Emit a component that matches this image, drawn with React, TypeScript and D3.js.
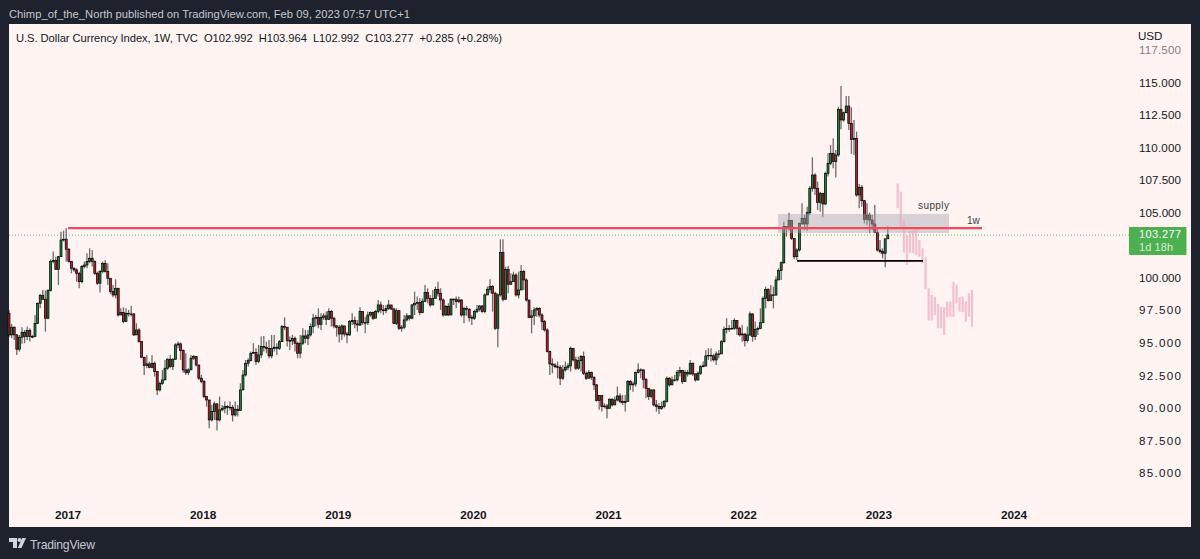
import * as d3 from "d3";

// weekly candles of DXY. open of a week = close of the week before
const firstOpen = 97.27;
const closes = [
  95.61, 96.2, 95.61, 94.51, 95.43, 95.81, 95.48, 95.94, 95.48, 95.48, 96.5, 98.04, 98.65, 98.35, 96.89, 99.01, 101.24, 101.32, 100.65, 101.62,
  102.9, 102.96, 102.19, 101.24, 100.73, 100.6, 100.34, 99.7, 100.86, 100.98, 101.24, 101.5, 101.24, 100.34, 99.58, 100.47, 101.11, 100.47, 99.96, 98.94,
  98.68, 99.19, 97.14, 97.32, 96.63, 97.27, 97.22, 97.22, 95.61, 95.99, 95.1, 93.89, 93.25, 93.38, 93.12, 93.43, 92.79, 91.38, 91.89, 92.15,
  93.05, 93.74, 93.18, 93.74, 94.84, 94.92, 94.4, 92.92, 92.71, 92.92, 93.82, 93.94, 93.3, 92.28, 92.02, 90.87, 90.61, 89.08, 89.72, 90.31,
  89.08, 89.85, 89.97, 90.1, 90.03, 90.05, 89.46, 89.9, 89.8, 91.38, 92.53, 93.43, 93.64, 94.2, 94.25, 93.56, 94.07,
  94.71, 94.66, 94.56, 94.0, 94.58, 94.66, 94.58, 95.09, 96.25, 96.2, 95.17, 95.15, 95.35, 94.97, 94.2, 94.97, 95.53, 95.35, 95.61, 96.25,
  96.89, 96.96, 96.42, 96.96, 97.07, 96.81, 97.4, 96.89, 96.3, 96.2, 95.68, 96.3, 95.68, 95.61, 96.63, 96.71, 96.45, 96.37, 97.4, 96.55,
  96.55, 97.14, 97.32, 96.89, 97.4, 97.91, 97.53, 97.47, 97.65, 97.91, 97.6, 96.5, 97.47, 96.12, 96.2, 96.76, 97.07, 96.89, 97.91, 98.04,
  98.09, 97.32, 98.17, 98.86, 98.42, 97.91, 98.42, 99.11, 98.81, 98.29, 97.14, 97.78, 97.14, 98.35, 98.35, 98.17, 98.29, 97.14, 97.65, 97.58,
  96.96, 96.89, 97.4, 97.58, 97.83, 97.4, 98.68, 99.11, 99.32, 98.81, 96.12, 98.68, 101.93, 98.35, 100.65, 99.5, 99.7, 100.21, 98.68, 99.06,
  100.47, 99.83, 98.29, 96.96, 97.07, 97.53, 97.65, 97.14, 96.63, 95.99, 94.33, 93.38, 93.3, 93.17, 93.12, 92.28, 92.92, 93.12, 93.23, 94.58,
  93.69, 93.05, 93.63, 93.94, 92.66, 92.28, 92.71, 92.36, 91.77, 90.56, 90.95, 90.1, 90.15, 89.97, 90.67, 90.23, 90.61, 90.92, 90.49, 90.41,
  90.49, 92.02, 91.77, 91.84, 92.71, 92.92, 92.92, 92.2, 91.51, 90.87, 91.38, 90.23, 90.1, 89.97, 90.1, 90.49, 92.28, 91.77, 92.15, 92.15,
  92.71, 92.87, 92.02, 92.71, 92.61, 93.43, 92.61, 92.15, 92.66, 93.17, 93.23, 94.0, 94.04, 94.0, 93.69, 94.15, 94.15, 95.09, 96.04, 96.09,
  96.09, 96.12, 96.71, 96.12, 95.61, 95.68, 95.17, 95.61, 97.22, 95.48, 96.04, 96.09, 96.55, 98.42, 99.11, 98.24, 98.68, 98.68, 99.83, 100.55,
  101.16, 103.93, 103.8, 104.39, 103.03, 101.62, 102.13, 104.18, 104.57, 104.13, 105.0, 106.87, 107.89, 106.87, 105.77, 106.49, 105.67, 108.02, 108.79, 109.56,
  108.92, 109.43, 112.94, 112.12, 112.68, 113.19, 111.86, 110.63, 110.71, 106.36, 106.95, 105.92, 104.49, 104.82, 104.44, 104.13, 103.47, 102.13, 102.01, 101.88,
  102.992, 103.277,
];
const highs = [
  97.53, 96.45, 96.25, 95.68, 95.61, 96.2, 95.99, 96.25, 96.12, 95.61, 97.14, 98.09, 98.76, 99.06, 99.01, 99.11, 101.42, 102.01, 101.62, 101.68,
  103.54, 103.62, 103.8, 102.26, 101.24, 100.8, 100.73, 100.47, 100.98, 101.24, 101.88, 102.26, 102.14, 101.32, 100.47, 100.6, 101.24, 101.37, 101.11, 99.06,
  99.45, 99.88, 99.24, 97.66, 97.73, 97.66, 97.53, 97.84, 97.27, 96.5, 96.12, 95.1, 93.94, 94.07, 93.56, 94.07, 93.56, 92.66, 92.02, 92.92,
  93.69, 93.82, 94.07, 93.82, 94.97, 95.1, 95.02, 94.51, 94.2, 93.05, 94.07, 94.07, 93.99, 93.3, 92.53, 92.15, 90.87, 90.61, 90.23, 90.49,
  90.36, 90.87, 90.23, 90.49, 90.23, 90.49, 90.23, 90.49, 90.23, 91.89, 92.92, 93.69, 93.82, 94.33, 94.97, 94.58, 94.84,
  95.48, 95.53, 95.09, 95.22, 95.61, 95.61, 94.97, 95.22, 96.37, 96.96, 96.12, 95.48, 95.61, 95.48, 95.09, 95.61, 96.12, 95.99, 95.99, 96.5,
  97.22, 97.14, 97.65, 97.27, 97.27, 97.4, 97.65, 97.53, 97.01, 96.37, 96.37, 96.43, 96.25, 95.86, 96.76, 97.27, 97.01, 96.76, 97.73, 97.4,
  97.01, 97.4, 97.4, 97.4, 97.53, 98.29, 98.17, 97.91, 97.91, 98.29, 97.91, 97.7, 97.65, 97.53, 96.37, 97.14, 97.27, 97.14, 97.99, 98.93,
  98.55, 98.42, 98.42, 99.45, 99.19, 98.68, 99.06, 99.32, 99.7, 99.19, 98.42, 97.91, 98.04, 98.42, 98.42, 98.55, 98.55, 98.35, 97.78, 97.83,
  97.65, 97.14, 97.53, 97.91, 97.91, 97.91, 98.81, 99.32, 99.88, 99.45, 98.93, 98.81, 102.95, 102.95, 100.85, 100.91, 100.34, 100.47, 100.34, 100.47,
  100.98, 100.6, 99.96, 98.29, 97.53, 97.73, 97.73, 97.73, 97.27, 96.76, 96.12, 94.4, 93.81, 93.43, 93.56, 93.3, 93.3, 93.56, 93.43, 94.71,
  94.58, 93.94, 93.94, 94.07, 94.33, 92.79, 92.92, 92.79, 92.41, 91.84, 91.0, 90.92, 90.36, 90.31, 90.74, 90.74, 90.87, 91.64, 91.13, 91.0,
  91.0, 92.15, 92.15, 92.02, 92.79, 93.43, 93.05, 92.97, 92.28, 91.51, 91.43, 91.43, 90.61, 90.36, 90.49, 90.61, 92.41, 92.36, 92.41, 92.53,
  92.92, 93.17, 92.92, 92.92, 92.92, 93.69, 93.48, 92.66, 92.79, 93.3, 93.56, 94.45, 94.58, 94.58, 94.15, 94.33, 94.45, 95.22, 96.25, 96.89,
  96.37, 96.76, 96.89, 96.76, 96.25, 96.37, 95.73, 96.25, 97.4, 97.27, 96.63, 96.25, 97.65, 98.55, 99.32, 99.19, 99.45, 99.32, 100.09, 100.73,
  101.24, 104.31, 103.93, 105.0, 104.44, 103.03, 102.26, 104.23, 105.72, 104.82, 105.46, 107.05, 109.25, 108.02, 107.38, 106.61, 106.49, 108.15, 109.56, 110.2,
  110.71, 109.81, 113.14, 114.73, 112.76, 113.96, 113.96, 113.09, 112.12, 111.22, 107.2, 107.13, 105.97, 105.72, 105.0, 104.82, 105.59, 103.8, 102.9, 102.26,
  102.95, 103.964,
];
const lows = [
  95.43, 95.35, 95.22, 94.07, 94.33, 94.92, 94.97, 95.22, 95.1, 95.35, 95.43, 96.45, 97.66, 98.3, 95.86, 96.81, 98.94, 101.11, 100.6, 99.45,
  101.62, 102.78, 101.24, 101.16, 100.34, 100.47, 99.7, 99.19, 99.58, 100.73, 100.73, 101.11, 100.86, 100.22, 99.45, 98.86, 100.34, 100.4, 99.45, 98.76,
  98.5, 98.42, 97.02, 97.14, 96.5, 96.63, 97.02, 97.02, 95.53, 95.61, 95.02, 93.82, 92.53, 93.05, 93.05, 93.05, 92.41, 91.0, 91.26, 91.77,
  92.15, 92.92, 93.05, 92.92, 93.69, 94.58, 93.69, 92.71, 92.53, 92.53, 93.05, 93.69, 93.18, 92.15, 91.89, 90.74, 90.1, 88.44, 88.95, 89.08,
  88.26, 88.95, 89.72, 89.59, 89.46, 89.8, 88.95, 89.34, 89.34, 90.23, 91.38, 92.41, 93.18, 93.56, 94.15, 93.3, 93.43,
  93.81, 94.33, 94.2, 93.81, 93.81, 94.33, 94.07, 94.45, 95.09, 95.99, 94.71, 94.45, 94.84, 94.33, 93.81, 93.81, 94.84, 94.97, 94.84, 95.48,
  95.73, 96.25, 96.12, 95.99, 96.76, 96.37, 96.76, 96.25, 96.12, 95.48, 95.02, 95.22, 95.48, 94.97, 95.53, 96.37, 96.12, 95.86, 96.3, 96.37,
  95.73, 96.37, 97.01, 96.76, 97.14, 97.27, 97.27, 97.14, 97.27, 97.53, 97.53, 96.45, 96.37, 95.99, 95.86, 96.04, 96.63, 96.71, 96.81, 97.14,
  97.53, 97.14, 97.27, 98.17, 98.04, 97.78, 97.91, 98.42, 98.55, 97.53, 97.01, 97.07, 97.07, 97.14, 97.91, 97.65, 98.04, 97.01, 96.5, 97.07,
  96.63, 96.37, 96.76, 97.27, 97.4, 97.32, 97.27, 98.68, 98.81, 97.4, 95.99, 94.66, 98.55, 98.17, 98.29, 98.81, 99.45, 99.7, 98.55, 98.42,
  99.06, 99.06, 98.17, 96.89, 95.73, 96.37, 97.01, 96.96, 95.99, 95.86, 94.25, 92.53, 92.66, 93.05, 92.28, 91.77, 92.15, 92.79, 92.92, 92.79,
  93.56, 92.92, 92.92, 92.79, 92.53, 92.15, 92.28, 92.15, 91.38, 90.49, 89.85, 89.72, 89.97, 89.21, 89.97, 90.1, 90.23, 90.49, 90.36, 90.23,
  89.72, 90.87, 91.38, 91.25, 91.64, 92.66, 92.28, 91.51, 90.74, 90.61, 90.74, 90.1, 89.72, 89.54, 89.85, 89.97, 90.41, 91.64, 91.77, 92.02,
  92.02, 92.41, 91.84, 92.02, 92.41, 92.53, 92.46, 92.02, 92.1, 92.53, 93.12, 93.17, 93.69, 93.56, 93.56, 93.3, 93.81, 94.2, 95.02, 95.73,
  95.86, 95.99, 95.99, 95.61, 95.48, 95.09, 94.71, 95.02, 95.53, 95.09, 95.22, 95.61, 96.04, 96.5, 97.65, 98.17, 98.29, 97.65, 98.6, 99.83,
  99.83, 101.06, 103.16, 103.62, 102.9, 101.42, 101.37, 102.01, 104.05, 103.67, 103.62, 104.82, 106.61, 106.36, 105.21, 105.08, 104.64, 105.59, 107.77, 108.66,
  108.41, 107.71, 109.3, 111.4, 111.99, 112.63, 111.35, 109.51, 109.43, 106.23, 105.33, 105.46, 104.18, 104.05, 103.41, 103.67, 103.41, 102.01, 101.88, 101.49,
  100.8, 102.992,
];

// pasted "bars pattern" projection in pink
const ghostHighs = [107.25, 106.61, 104.39, 103.29, 103.62, 103.62, 103.72, 102.9, 102.26, 101.57, 99.19, 98.68, 98.55, 97.99, 97.78, 97.73, 98.17, 98.17, 99.7, 99.45, 98.5, 98.55, 98.17, 98.8, 99.06];
const ghostLows = [105.33, 103.8, 101.93, 100.98, 101.88, 101.88, 101.75, 101.62, 101.11, 99.11, 96.71, 96.71, 97.14, 96.12, 96.12, 95.6, 96.96, 97.01, 97.01, 98.04, 97.4, 97.35, 96.63, 97.01, 96.24];

// 102.500 sits behind the last price label in the reference, so it is left out
const priceTicks = [85, 87.5, 90, 92.5, 95, 97.5, 100, 105, 107.5, 110, 112.5, 115, 117.5];
const years = [2017, 2018, 2019, 2020, 2021, 2022, 2023, 2024];
const lastPrice = 103.277;
const resistance = 103.82;
const support = 101.29;
const supplyTop = 104.9;
const supplyBottom = 103.44;

const W = 1200, H = 559;
const FONT = "'Liberation Sans', Arial, sans-serif";
const BG = "#fff4f2", FRAME = "#1e222d";
const UP = "#1f7f3c", DOWN = "#b3202e";

const y = d3.scaleLinear().domain([85, 115]).range([473, 82.5]);
const x = d3.scaleLinear().domain([0, 338]).range([9, 887.8]);
const xYear = d3.scaleLinear().domain([2017, 2024]).range([68, 1014]);
const xGhost = d3.scaleLinear().domain([0, ghostHighs.length - 1]).range([897.7, 972]);

export default function App() {
  const candles = closes.map((c, i) => ({
    i,
    open: i === 0 ? firstOpen : closes[i - 1],
    close: c,
    high: highs[i],
    low: lows[i],
  }));

  return (
    <svg width={W} height={H} style={{ position: "fixed", left: 0, top: 0, display: "block" }} fontFamily={FONT}>
      <rect width={W} height={H} fill={FRAME} />
      <rect x={9} y={24} width={1182} height={503} fill={BG} />

      <text x={9} y={18} fontSize={11.2} textLength={401} fill="#c4c7d0">Chimp_of_the_North published on TradingView.com, Feb 09, 2023 07:57 UTC+1</text>
      <text x={16} y={42} fontSize={11.2} textLength={486} fill="#131722" xmlSpace="preserve">U.S. Dollar Currency Index, 1W, TVC  O102.992  H103.964  L102.992  C103.277  +0.285 (+0.28%)</text>

      <line x1={9} x2={1129} y1={y(lastPrice)} y2={y(lastPrice)} stroke="#4caf50" strokeOpacity={0.85} strokeDasharray="1 2" />

      {candles.map(d => {
        const top = y(Math.max(d.open, d.close));
        const bottom = y(Math.min(d.open, d.close));
        return (
          <g key={d.i}>
            <line x1={x(d.i)} x2={x(d.i)} y1={y(d.high)} y2={y(d.low)} stroke="#111" strokeOpacity={0.6} strokeWidth={1.3} />
            <rect
              x={x(d.i) - 1}
              y={top}
              width={2}
              height={Math.max(bottom - top, 0.6)}
              fill={d.close >= d.open ? UP : DOWN}
              stroke="#000"
              strokeWidth={0.7}
            />
          </g>
        );
      })}

      <rect x={778} y={y(supplyTop)} width={171} height={y(supplyBottom) - y(supplyTop)} fill="#a9a6b2" fillOpacity={0.45} />

      {ghostHighs.map((h, i) => (
        <rect key={i} x={xGhost(i) - 1.1} y={y(h)} width={2.2} height={y(ghostLows[i]) - y(h)} fill="#f0a8c0" fillOpacity={0.7} />
      ))}

      <line x1={68} x2={982} y1={y(resistance)} y2={y(resistance)} stroke="#f2495c" strokeWidth={2.2} />
      <line x1={797} x2={923} y1={y(support)} y2={y(support)} stroke="#000" strokeWidth={1.8} />

      <text x={918} y={209} fontSize={10} textLength={31} fill="#3a3a40">supply</text>
      <text x={967} y={224} fontSize={10} fill="#3a3a40">1w</text>

      <text x={1138} y={40} fontSize={11.6} fill="#131722">USD</text>
      {priceTicks.map(t => (
        <text key={t} x={1139} y={y(t)} dy="0.36em" fontSize={11.6} textLength={42} fill="#131722" opacity={t === 117.5 ? 0.55 : 1}>
          {t.toFixed(3)}
        </text>
      ))}

      <rect x={1129} y={227} width={57.5} height={28} rx={1} fill="#4caf50" />
      <text x={1139} y={234.5} dy="0.36em" fontSize={11} textLength={42} fill="#fff">{lastPrice.toFixed(3)}</text>
      <text x={1139} y={251} fontSize={11} textLength={34} fill="#ffffff" fillOpacity={0.8}>1d 18h</text>

      {years.map(yr => (
        <text key={yr} x={xYear(yr)} y={519} fontSize={11.8} fontWeight={700} textAnchor="middle" fill="#131722">{yr}</text>
      ))}

      <g transform="translate(9,538)" fill="#d1d4dc">
        <path d="M0 0H8V10H4V4H0Z" />
        <circle cx={10.5} cy={2} r={2} />
        <path d="M12.5 10H8.8L13.2 0H17Z" />
      </g>
      <text x={30} y={548.5} fontSize={12.2} textLength={65} fill="#c4c7d0">TradingView</text>
    </svg>
  );
}
